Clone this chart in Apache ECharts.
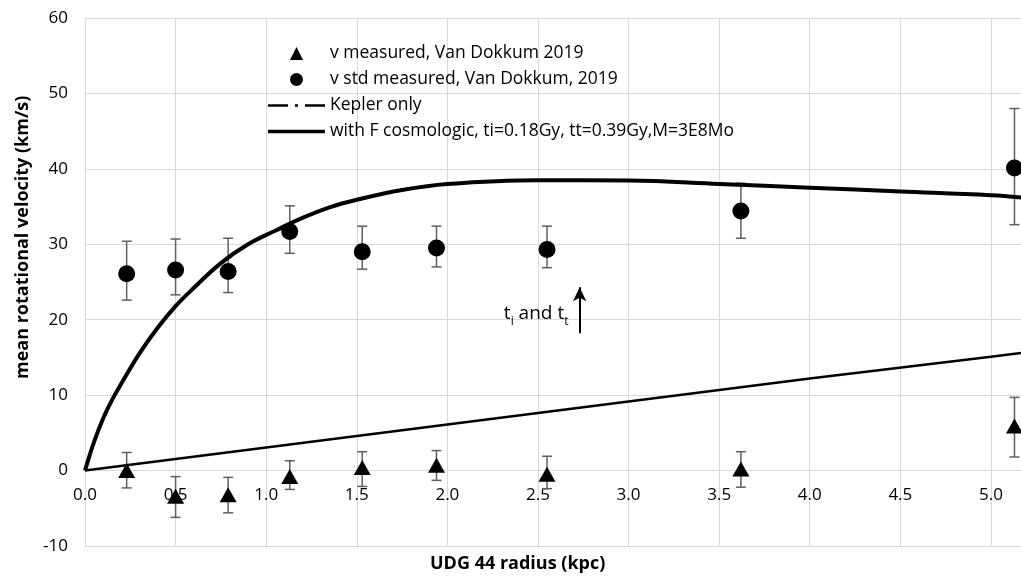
<!DOCTYPE html>
<html>
<head>
<meta charset="utf-8">
<script src="https://cdn.jsdelivr.net/npm/echarts@6/dist/echarts.min.js"></script>
<style>
  html, body { margin: 0; padding: 0; background: #fff; }
  #main { width: 1021px; height: 579px; }
</style>
</head>
<body>
<div id="main"></div>
<script>
// measured points (UDG 44)
var radius = [0.23, 0.50, 0.79, 1.13, 1.53, 1.94, 2.55, 3.62, 5.13];
var vMeas = [0.0, -3.4, -3.2, -0.8, 0.4, 0.7, -0.5, 0.2, 5.9];
var vMeasLow = [-2.3, -6.2, -5.6, -2.5, -2.1, -1.3, -2.4, -2.2, 1.8];
var vMeasHigh = [2.4, -0.8, -0.9, 1.3, 2.5, 2.65, 1.9, 2.5, 9.7];
var vStd = [26.1, 26.6, 26.4, 31.7, 29.0, 29.5, 29.3, 34.4, 40.1];
var vStdLow = [22.6, 23.3, 23.6, 28.8, 26.7, 27.0, 26.9, 30.8, 32.6];
var vStdHigh = [30.4, 30.7, 30.8, 35.1, 32.4, 32.4, 32.4, 38.1, 48.0];

// model curves
var keplerR = [0, 1, 2, 3, 4, 5, 5.166];
var keplerV = [0, 3.05, 6.1, 9.15, 12.2, 15.1, 15.6];
var cosmoR = [0, 0.05, 0.1, 0.15, 0.2, 0.3, 0.4, 0.5, 0.6, 0.75, 0.9, 1.05, 1.2, 1.35, 1.5, 1.75, 2.0, 2.5, 3.0, 3.5, 4.0, 4.5, 5.0, 5.166];
var cosmoV = [0, 3.8, 6.9, 9.4, 11.5, 15.5, 18.9, 21.8, 24.2, 27.5, 30.0, 31.8, 33.5, 34.9, 35.9, 37.2, 38.0, 38.5, 38.45, 38.0, 37.5, 37.0, 36.5, 36.2];

var xTicks = { min: 0, max: 5.166, interval: 0.5 };
var yTicks = { min: -10, max: 60, interval: 10 };

var names = [
    'v measured, Van Dokkum 2019',
    'v std measured, Van Dokkum, 2019',
    'Kepler only',
    'with F cosmologic, ti=0.18Gy, tt=0.39Gy,M=3E8Mo'
];

var FONT = '"Open Sans", sans-serif';
var GRID = '#d9d9d9';
var gridBox = { left: 85, right: 0, top: 18, bottom: 33 };
var plotH = 579 - gridBox.top - gridBox.bottom;
// x axis labels sit on the v = 0 line
var zeroOffset = (0 - yTicks.min) / (yTicks.max - yTicks.min) * plotH;

function pairs(xs, ys) {
    return xs.map(function (x, i) { return [x, ys[i]]; });
}

function errorData(lo, hi) {
    return radius.map(function (r, i) { return [r, lo[i], hi[i]]; });
}

function renderError(params, api) {
    var x = api.value(0);
    var a = api.coord([x, api.value(1)]);
    var b = api.coord([x, api.value(2)]);
    var w = 5;
    var st = { stroke: '#5f5f5f', lineWidth: 1.5 };
    return {
        type: 'group',
        children: [
            { type: 'line', shape: { x1: a[0], y1: a[1], x2: b[0], y2: b[1] }, style: st },
            { type: 'line', shape: { x1: a[0] - w, y1: a[1], x2: a[0] + w, y2: a[1] }, style: st },
            { type: 'line', shape: { x1: b[0] - w, y1: b[1], x2: b[0] + w, y2: b[1] }, style: st }
        ]
    };
}

var myChart = echarts.init(document.getElementById('main'));

var option = {
    animation: false,
    backgroundColor: '#fff',
    grid: gridBox,
    xAxis: {
        type: 'value',
        min: xTicks.min, max: xTicks.max, interval: xTicks.interval,
        offset: -zeroOffset,
        axisLine: { onZero: false, lineStyle: { color: GRID } },
        axisTick: { show: false },
        splitLine: { lineStyle: { color: GRID, width: 1 } },
        axisLabel: {
            color: '#000', fontSize: 17, fontFamily: FONT, margin: 16,
            showMaxLabel: false,
            formatter: function (v) { return v.toFixed(1); }
        }
    },
    yAxis: {
        type: 'value',
        min: yTicks.min, max: yTicks.max, interval: yTicks.interval,
        axisLine: { show: true, onZero: false, lineStyle: { color: GRID } },
        axisTick: { show: false },
        splitLine: { lineStyle: { color: GRID, width: 1 } },
        axisLabel: { color: '#000', fontSize: 17, fontFamily: FONT, margin: 17 }
    },
    legend: {
        orient: 'vertical',
        left: 268, top: 43, padding: 0,
        itemWidth: 57, itemHeight: 13, itemGap: 5,
        symbolKeepAspect: true,
        textStyle: { color: '#000', fontSize: 17.5, fontFamily: FONT, lineHeight: 21 },
        data: [
            { name: names[0], icon: 'path://M6.5,0L13,13L0,13Z' },
            { name: names[1], icon: 'circle' },
            { name: names[2], icon: 'path://M0,0h20v2.5h-20z M27,0h3v2.5h-3z M37,0h20v2.5h-20z', itemStyle: { borderWidth: 0 } },
            { name: names[3], icon: 'path://M0,0h57v3.5h-57z', itemStyle: { borderWidth: 0 } }
        ]
    },
    graphic: [
        {
            type: 'text', left: 430, top: 555,
            style: { text: 'UDG 44 radius (kpc)', font: 'bold 18px ' + FONT, fill: '#000' }
        },
        {
            type: 'text', x: 14, y: 379, rotation: Math.PI / 2,
            style: { text: 'mean rotational velocity (km/s)', font: 'bold 18px ' + FONT, fill: '#000', align: 'left', verticalAlign: 'top' }
        }
    ],
    series: [
        {
            name: 'err measured', type: 'custom', renderItem: renderError,
            data: errorData(vMeasLow, vMeasHigh), z: 1, silent: true
        },
        {
            name: 'err std', type: 'custom', renderItem: renderError,
            data: errorData(vStdLow, vStdHigh), z: 1, silent: true
        },
        {
            name: names[0], type: 'scatter',
            symbol: 'triangle', symbolSize: [17, 15],
            itemStyle: { color: '#000', opacity: 1 },
            data: pairs(radius, vMeas), z: 3
        },
        {
            name: names[1], type: 'scatter',
            symbol: 'circle', symbolSize: 17,
            itemStyle: { color: '#000', opacity: 1 },
            data: pairs(radius, vStd), z: 3
        },
        {
            name: names[2], type: 'line', symbol: 'none',
            lineStyle: { color: '#000', width: 2.5 },
            itemStyle: { color: '#000' },
            data: pairs(keplerR, keplerV), z: 4,
            markLine: {
                silent: true, symbol: ['none', 'arrow'], symbolSize: [10, 14],
                lineStyle: { color: '#000', width: 2, type: 'solid' },
                label: { show: false },
                data: [[{ coord: [2.73, 18.2] }, { coord: [2.73, 24.3] }]]
            },
            markPoint: {
                silent: true, symbol: 'circle', symbolSize: 1,
                itemStyle: { color: 'rgba(0,0,0,0)' },
                label: {
                    show: true, position: 'inside',
                    formatter: '{m|t}{s|i}{m| and t}{s|t}',
                    rich: {
                        m: { fontSize: 19, fontFamily: FONT, color: '#000', lineHeight: 24, verticalAlign: 'top', padding: [0, 0, 3, 0] },
                        s: { fontSize: 12, fontFamily: FONT, color: '#000', lineHeight: 12, verticalAlign: 'bottom' }
                    }
                },
                data: [{ coord: [2.49, 20.5] }]
            }
        },
        {
            name: names[3], type: 'line',
            symbol: 'none', smooth: 0.4,
            lineStyle: { color: '#000', width: 4 },
            itemStyle: { color: '#000' },
            data: pairs(cosmoR, cosmoV), z: 4
        }
    ]
};

myChart.setOption(option);
</script>
</body>
</html>
